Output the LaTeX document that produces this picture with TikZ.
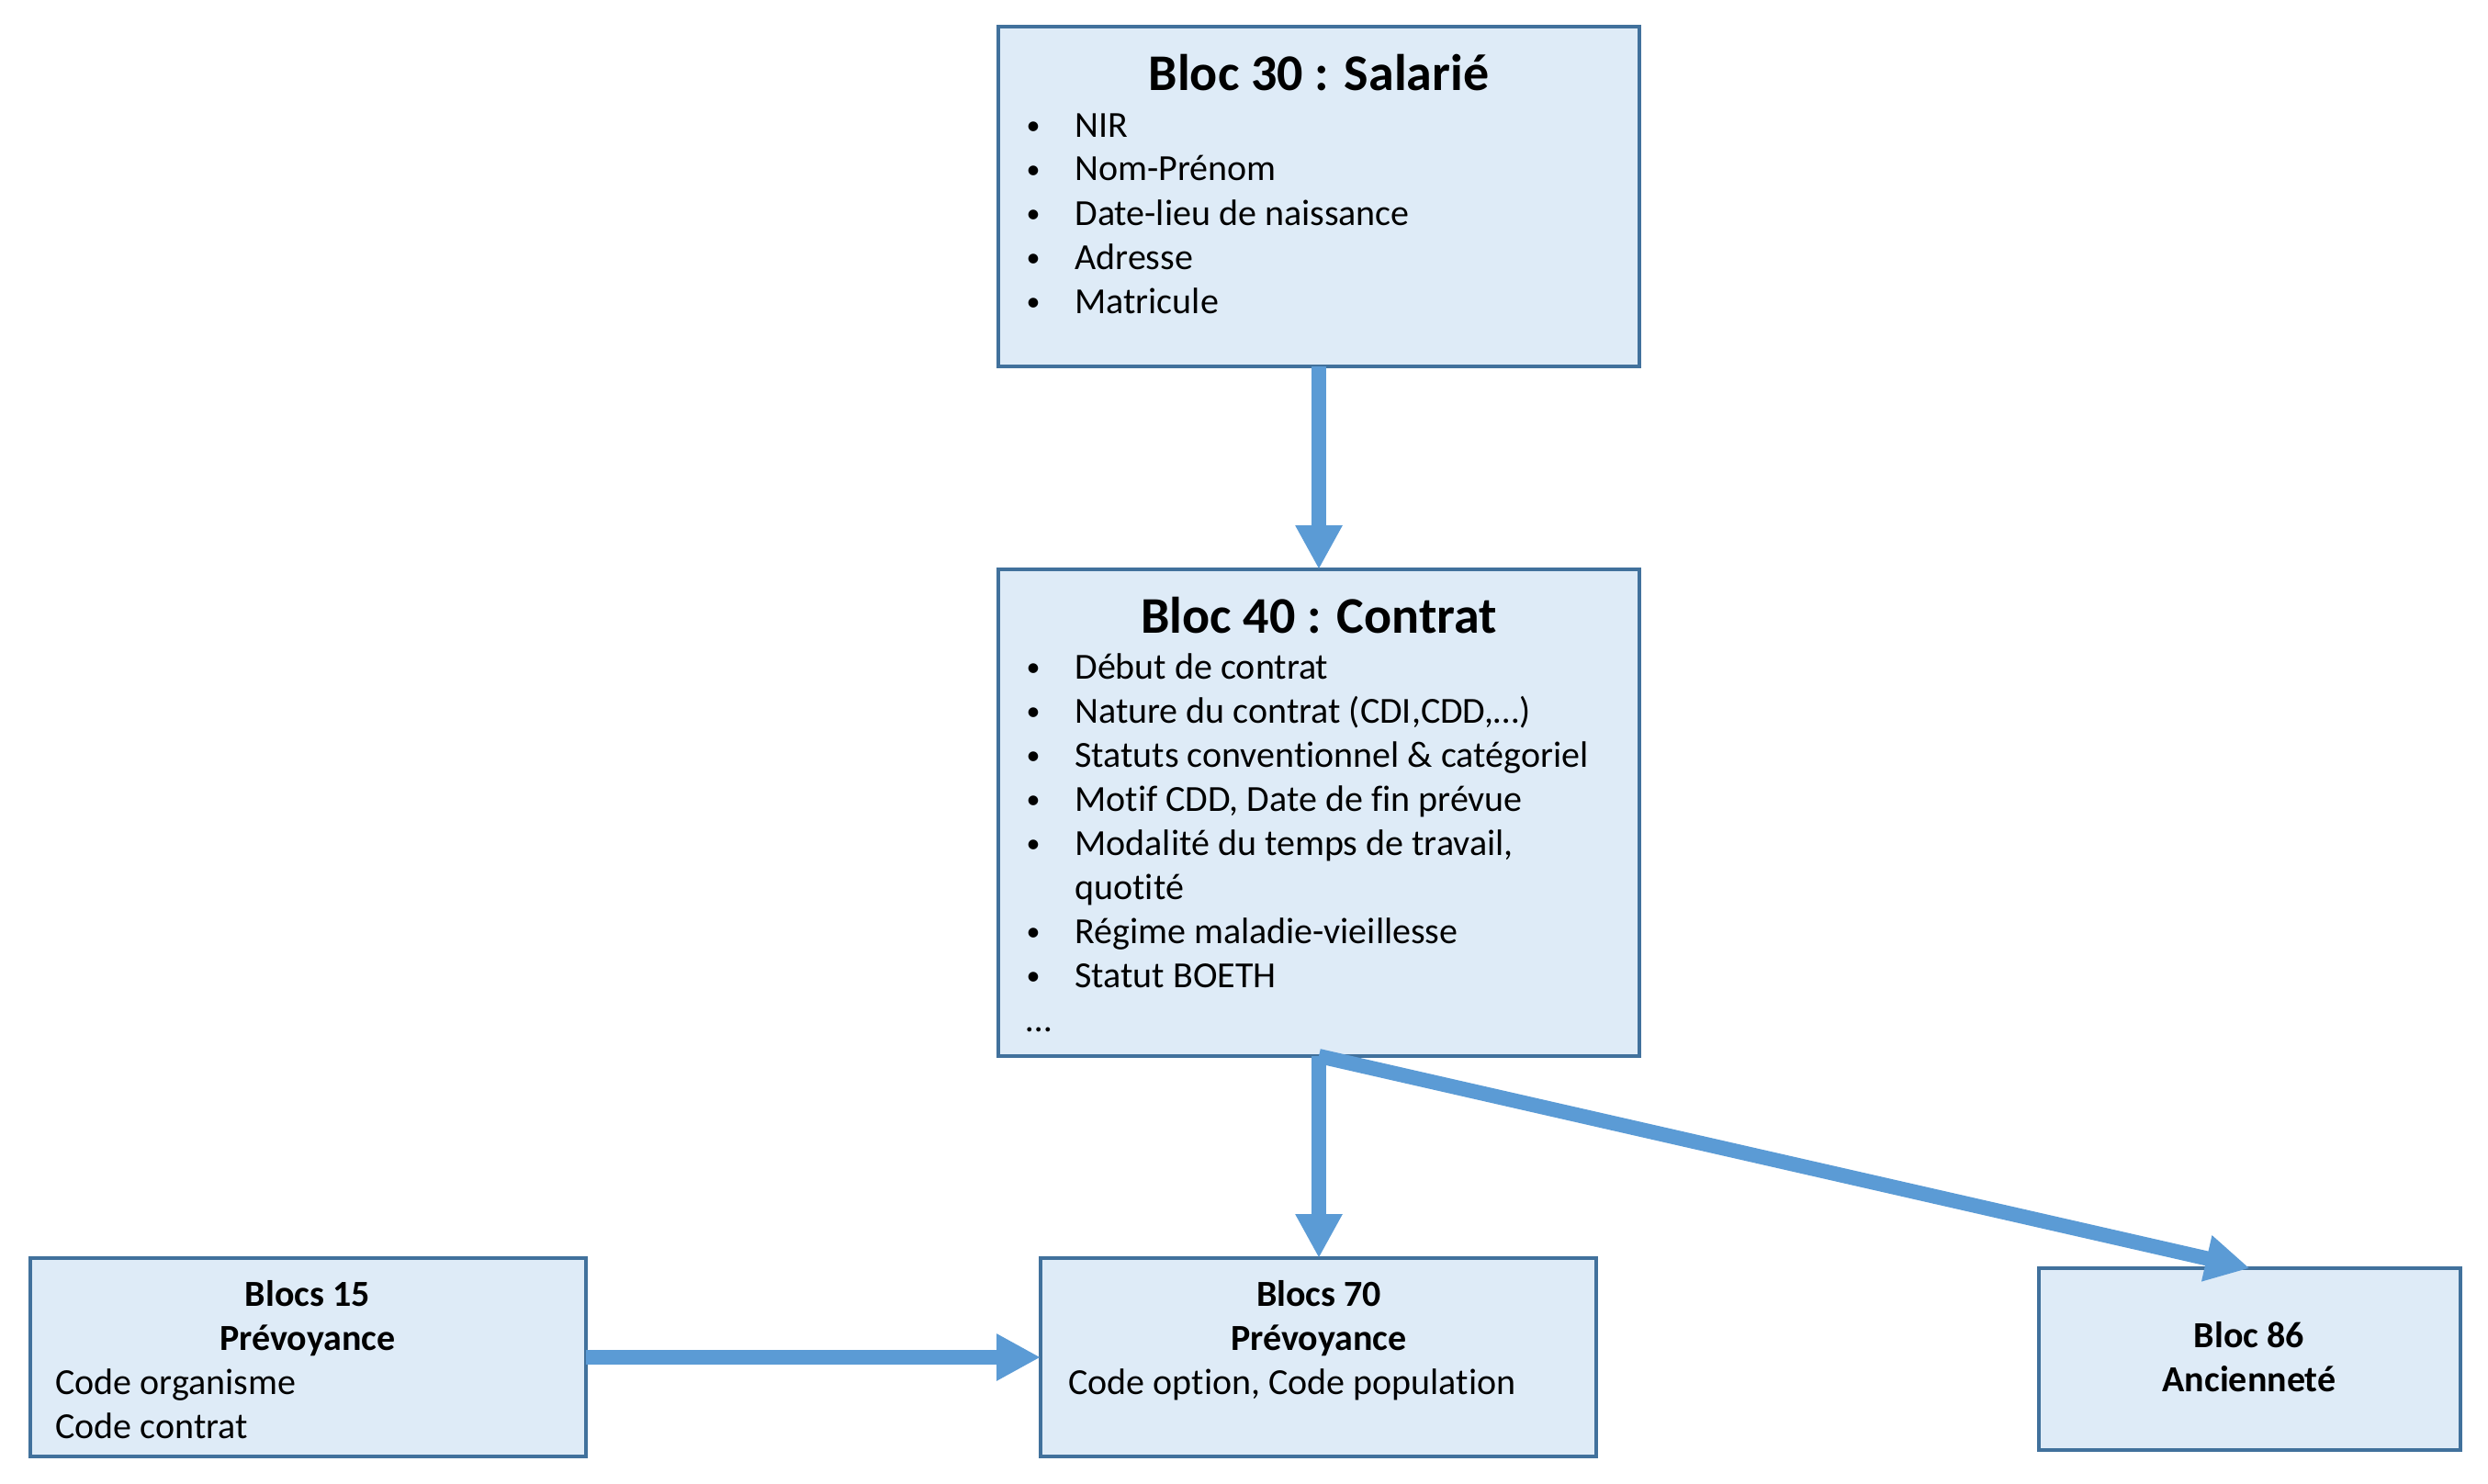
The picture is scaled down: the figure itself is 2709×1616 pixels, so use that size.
\documentclass[tikz,border=0pt]{standalone}
\usepackage{fontspec}
\setmainfont{Carlito}[Ligatures=NoCommon]
\usetikzlibrary{arrows.meta}
\definecolor{boxfill}{HTML}{DEEBF7}
\definecolor{boxline}{HTML}{41719C}
\definecolor{arr}{HTML}{5B9BD5}
\begin{document}
\begin{tikzpicture}[x=0.5pt,y=-0.5pt,
  blk/.style={draw=boxline, fill=boxfill, line width=1.75pt, inner sep=0pt, outer sep=0pt},
  ttl/.style={font=\fontsize{28}{34}\selectfont\bfseries, anchor=base, inner sep=0pt},
  hd/.style={font=\fontsize{20}{24}\selectfont\bfseries, anchor=base, inner sep=0pt},
  txt/.style={font=\fontsize{20}{24}\selectfont, anchor=base west, inner sep=0pt},
  bul/.style={font=\fontsize{15}{18}\selectfont, anchor=base, inner sep=0pt},
  conn/.style={draw=arr, line width=8pt, -{Triangle[length=24pt,width=24pt]}}
]
\useasboundingbox[fill=white] (0,0) rectangle (2709,1616);
\newcommand{\mybul}{\raisebox{1.4pt}{\textbullet}}

% boxes
\node[blk, minimum width=349pt, minimum height=185pt] (b30) at (1436,214) {};
\node[blk, minimum width=349pt, minimum height=265pt] (b40) at (1436,885) {};
\node[blk, minimum width=302.5pt, minimum height=108pt] (b15) at (335.5,1478) {};
\node[blk, minimum width=302.5pt, minimum height=108pt] (b70) at (1435.5,1478) {};
\node[blk, minimum width=229.5pt, minimum height=99pt] (b86) at (2449.5,1480) {};

% Bloc 30
\node[ttl] (t30) at (1436,98) {Bloc 30 : Salarié};
\foreach \t [count=\i] in {NIR, Nom-Prénom, Date-lieu de naissance, Adresse, Matricule} {
  \node[bul] (d30-\i) at (1125,101+48*\i) {\mybul};
  \node[txt] (l30-\i) at (1170,101+48*\i) {\t};
}

% Bloc 40
\node[ttl] (t40) at (1436,689) {Bloc 40 : Contrat};
\node[bul] (d40-1) at (1125,739) {\mybul};
\node[txt] (l40-1) at (1170,739) {Début de contrat};
\node[bul] (d40-2) at (1125,787) {\mybul};
\node[txt] (l40-2) at (1170,787) {Nature du contrat (CDI,CDD,…)};
\node[bul] (d40-3) at (1125,835) {\mybul};
\node[txt] (l40-3) at (1170,835) {Statuts conventionnel \& catégoriel};
\node[bul] (d40-4) at (1125,883) {\mybul};
\node[txt] (l40-4) at (1170,883) {Motif CDD, Date de fin prévue};
\node[bul] (d40-5) at (1125,931) {\mybul};
\node[txt] (l40-5) at (1170,931) {Modalité du temps de travail,};
\node[txt] (l40-5b) at (1170,979) {quotité};
\node[bul] (d40-6) at (1125,1027) {\mybul};
\node[txt] (l40-6) at (1170,1027) {Régime maladie-vieillesse};
\node[bul] (d40-7) at (1125,1075) {\mybul};
\node[txt] (l40-7) at (1170,1075) {Statut BOETH};
\node[txt] (l40-8) at (1117,1123) {…};

% Blocs 15
\node[hd] (h15a) at (335,1422) {Blocs 15};
\node[hd] (h15b) at (335,1470) {Prévoyance};
\node[txt] (l15-1) at (60,1518) {Code organisme};
\node[txt] (l15-2) at (60,1566) {Code contrat};

% Blocs 70
\node[hd] (h70a) at (1436,1422) {Blocs 70};
\node[hd] (h70b) at (1436,1470) {Prévoyance};
\node[txt] (l70-1) at (1163,1518) {Code option, Code population};

% Bloc 86
\node[hd] (h86a) at (2449,1467) {Bloc 86};
\node[hd] (h86b) at (2449,1515) {Ancienneté};

% connectors
\draw[conn] (b30.south) -- (b40.north);
\draw[conn] (b40.south) -- (b40.south |- b70.north);
\draw[conn] (b40.south) -- (b86.north);
\draw[conn] (b15.east) -- (b70.west);
\end{tikzpicture}
\end{document}
